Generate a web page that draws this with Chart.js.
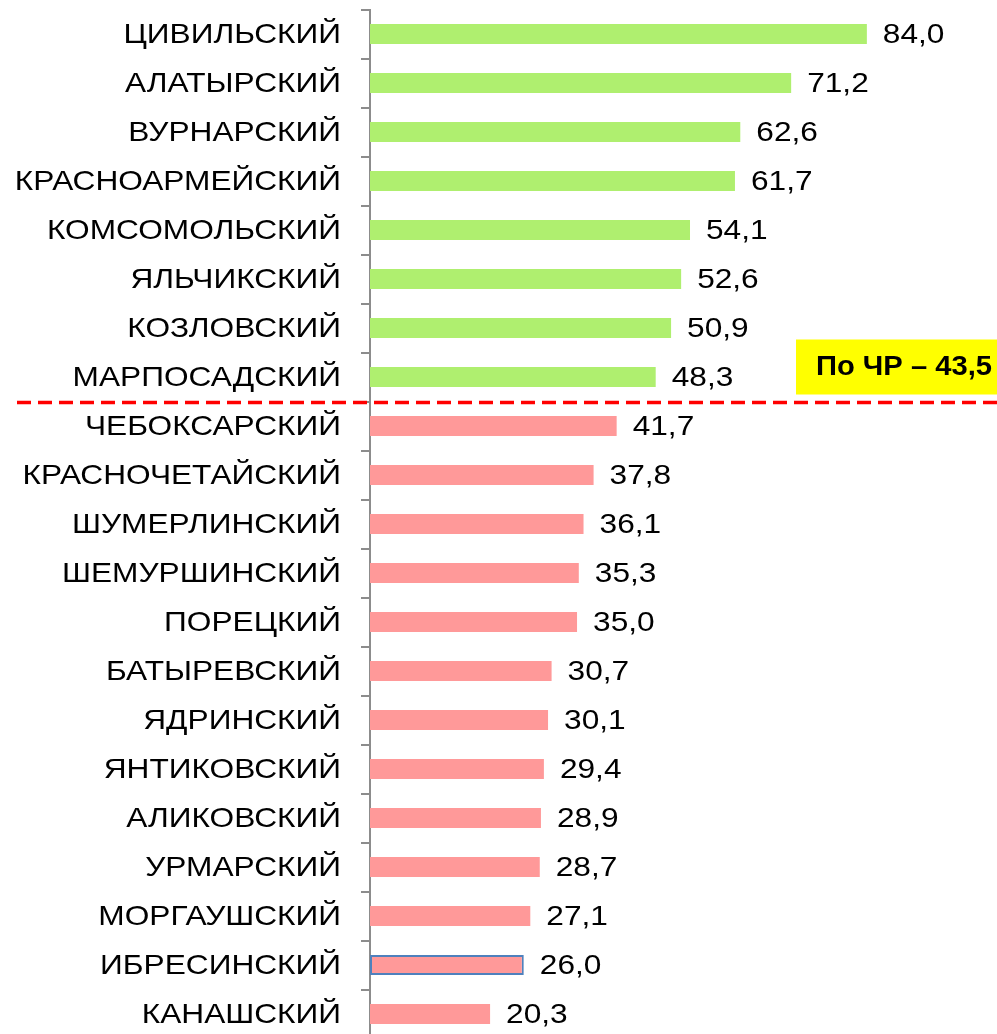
<!DOCTYPE html>
<html>
<head>
<meta charset="utf-8">
<script src="https://cdn.jsdelivr.net/npm/chart.js@4/dist/chart.umd.min.js"></script>
<style>
    html, body { margin: 0; padding: 0; background: #fff; overflow: hidden; }
    #wrap { position: relative; width: 997px; height: 1040px; }
</style>
</head>
<body>
<div id="wrap"><canvas id="chart"></canvas></div>
<script>
const districts = [
    'ЦИВИЛЬСКИЙ', 'АЛАТЫРСКИЙ', 'ВУРНАРСКИЙ', 'КРАСНОАРМЕЙСКИЙ', 'КОМСОМОЛЬСКИЙ',
    'ЯЛЬЧИКСКИЙ', 'КОЗЛОВСКИЙ', 'МАРПОСАДСКИЙ', 'ЧЕБОКСАРСКИЙ', 'КРАСНОЧЕТАЙСКИЙ',
    'ШУМЕРЛИНСКИЙ', 'ШЕМУРШИНСКИЙ', 'ПОРЕЦКИЙ', 'БАТЫРЕВСКИЙ', 'ЯДРИНСКИЙ',
    'ЯНТИКОВСКИЙ', 'АЛИКОВСКИЙ', 'УРМАРСКИЙ', 'МОРГАУШСКИЙ', 'ИБРЕСИНСКИЙ', 'КАНАШСКИЙ'
];
const values = [
    84.0, 71.2, 62.6, 61.7, 54.1, 52.6, 50.9, 48.3, 41.7, 37.8,
    36.1, 35.3, 35.0, 30.7, 30.1, 29.4, 28.9, 28.7, 27.1, 26.0, 20.3
];
const republicAvg = 43.5;
const avgLabel = 'По ЧР – 43,5';
const highlighted = 'ИБРЕСИНСКИЙ';

const green = '#AFEF6F';
const pink = '#FF9999';
const FONT = 'Arial, "Liberation Sans", sans-serif';
const STRETCH = 1.13; // the original slide text is slightly wider than plain Arial

const fmt = v => v.toFixed(1).replace('.', ',');

function drawText(ctx, text, x, y, align, sx) {
    ctx.save();
    ctx.translate(x, y);
    ctx.scale(sx, 1);
    ctx.textAlign = align;
    ctx.textBaseline = 'middle';
    ctx.fillText(text, 0, 0);
    ctx.restore();
}

// category names left of the axis and values at the end of each bar
const textLabels = {
    id: 'textLabels',
    afterDatasetsDraw(chart) {
        const ctx = chart.ctx;
        const meta = chart.getDatasetMeta(0);
        const yScale = chart.scales.y;
        ctx.save();
        ctx.font = '28px ' + FONT;
        ctx.fillStyle = '#000';
        districts.forEach((name, i) => {
            drawText(ctx, name, yScale.right - 29, yScale.getPixelForValue(i) + 1, 'right', STRETCH);
        });
        meta.data.forEach((bar, i) => {
            drawText(ctx, fmt(values[i]), bar.x + 16, bar.y + 1, 'left', STRETCH);
        });
        ctx.restore();
    }
};

// dashed separator between districts above and below the republic average, plus the yellow box
const avgMarker = {
    id: 'avgMarker',
    afterDraw(chart) {
        const ctx = chart.ctx;
        const yScale = chart.scales.y;
        const idx = values.findIndex(v => v < republicAvg);
        const y = (yScale.getPixelForValue(idx - 1) + yScale.getPixelForValue(idx)) / 2 + 1;
        ctx.save();
        ctx.strokeStyle = '#FF0000';
        ctx.lineWidth = 3.5;
        ctx.setLineDash([14, 7]);
        ctx.beginPath();
        ctx.moveTo(17, y);
        ctx.lineTo(chart.width, y);
        ctx.stroke();
        ctx.setLineDash([]);

        ctx.fillStyle = '#FFFF00';
        ctx.fillRect(796, y - 63, chart.width - 796, 55);
        ctx.fillStyle = '#000';
        ctx.font = 'bold 27px ' + FONT;
        drawText(ctx, avgLabel, 816, y - 35, 'left', 1.08);
        ctx.restore();
    }
};

new Chart(document.getElementById('chart'), {
    type: 'bar',
    data: {
        labels: districts,
        datasets: [{
            data: values,
            backgroundColor: values.map(v => v > republicAvg ? green : pink),
            borderColor: districts.map(d => d === highlighted ? '#4F81BD' : 'rgba(0,0,0,0)'),
            borderWidth: districts.map(d => d === highlighted ? 2 : 0),
            borderSkipped: false,
            barPercentage: 0.41,
            categoryPercentage: 1.0
        }]
    },
    options: {
        indexAxis: 'y',
        responsive: true,
        maintainAspectRatio: false,
        animation: false,
        layout: { padding: { top: 9.5, bottom: 1.5, left: 0, right: 0 } },
        plugins: {
            legend: { display: false },
            tooltip: { enabled: false }
        },
        scales: {
            x: {
                display: false,
                min: 0,
                max: 106
            },
            y: {
                afterFit(scale) {
                    scale.width = 370;
                    scale.paddingTop = 0;
                    scale.paddingBottom = 0;
                },
                grid: {
                    display: true,
                    drawOnChartArea: false,
                    drawTicks: true,
                    tickLength: 9,
                    color: '#8C8C8C',
                    lineWidth: 2,
                    offset: true
                },
                border: { display: true, color: '#8C8C8C', width: 2 },
                ticks: {
                    display: false,
                    autoSkip: false
                }
            }
        }
    },
    plugins: [textLabels, avgMarker]
});
</script>
</body>
</html>
